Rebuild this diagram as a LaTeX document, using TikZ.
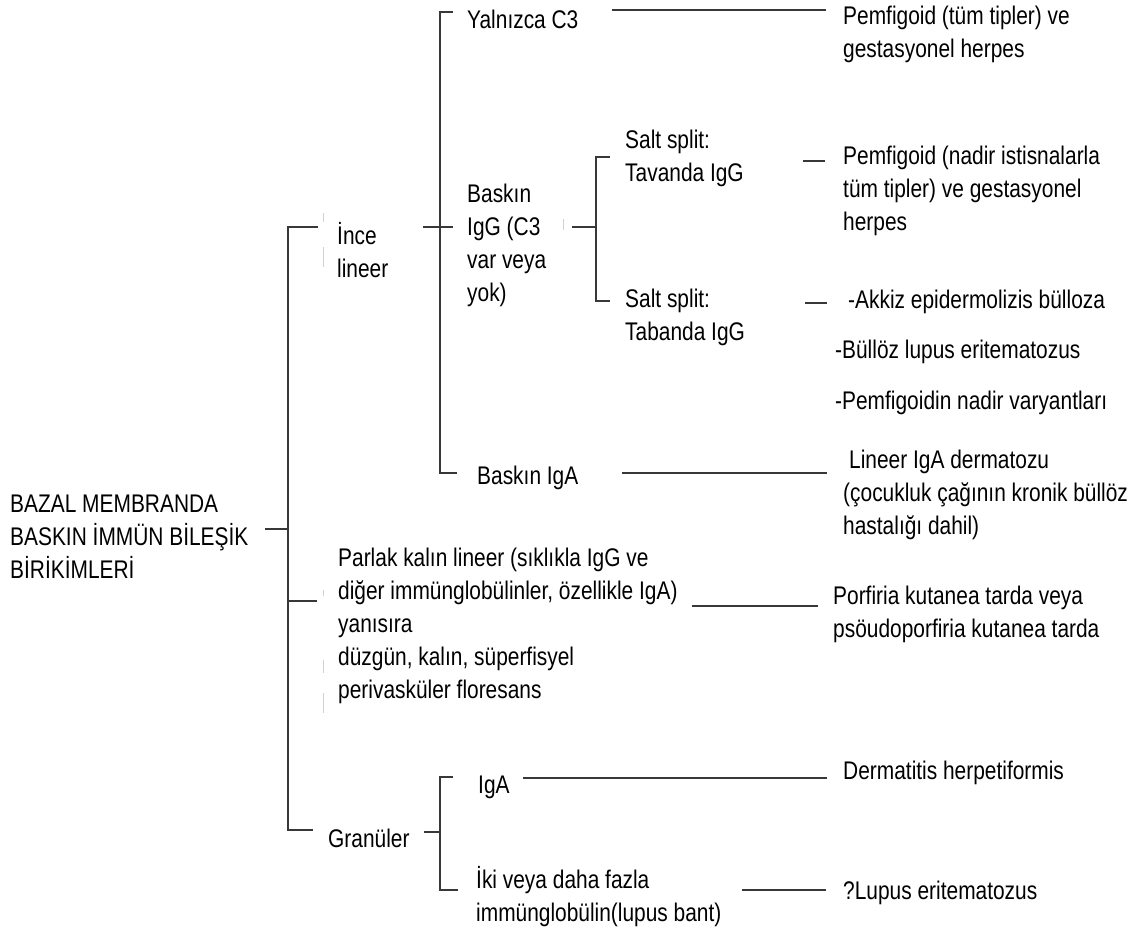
\documentclass[tikz,border=0pt]{standalone}
\usepackage{fontspec}
\setmainfont{Liberation Sans}[FakeStretch=0.82]
\begin{document}
\begin{tikzpicture}[x=1pt,y=-1pt,
  lbl/.style={anchor=west, inner sep=0pt, align=left, font=\fontsize{25.5}{33}\selectfont},
  ln/.style={draw=black!78, line width=1.4pt},
  faint/.style={draw=black!18, line width=0.8pt}]
\useasboundingbox (0,0) rectangle (1137,934);
% ---------- texts ----------
\node[lbl] (root) at (10,537) {BAZAL MEMBRANDA\\BASKIN İMMÜN BİLEŞİK\\BİRİKİMLERİ};
\node[lbl] (ince) at (337,250) {İnce\\lineer};
\node[lbl] (parlak) at (338,626) {Parlak kalın lineer (sıklıkla IgG ve\\diğer immünglobülinler, özellikle IgA)\\yanısıra\\düzgün, kalın, süperfisyel\\perivasküler floresans};
\node[lbl] (gran) at (328,838) {Granüler};
\node[lbl] (yal) at (467,19) {Yalnızca C3};
\node[lbl] (bigg) at (467,245) {Baskın\\IgG (C3\\var veya\\yok)};
\node[lbl] (biga) at (477,478) {Baskın IgA};
\node[lbl] (iga) at (478,787) {IgA};
\node[lbl] (iki) at (476,897) {İki veya daha fazla\\immünglobülin(lupus bant)};
\node[lbl] (s1) at (625,158) {Salt split:\\Tavanda IgG};
\node[lbl] (s2) at (625,317) {Salt split:\\Tabanda IgG};
\node[lbl] (rp1) at (843,34) {Pemfigoid (tüm tipler) ve\\gestasyonel herpes};
\node[lbl] (rp2) at (843,191) {Pemfigoid (nadir istisnalarla\\tüm tipler) ve gestasyonel\\herpes};
\node[lbl] (rak) at (848,302) {-Akkiz epidermolizis bülloza};
\node[lbl] (rbu) at (835,352) {-Büllöz lupus eritematozus};
\node[lbl] (rpv) at (835,403) {-Pemfigoidin nadir varyantları};
\node[lbl] (rli) at (843,495) {\hspace*{6pt}Lineer IgA dermatozu\\(çocukluk çağının kronik büllöz\\hastalığı dahil)};
\node[lbl] (rpo) at (833,614) {Porfiria kutanea tarda veya\\psöudoporfiria kutanea tarda};
\node[lbl] (rde) at (843,773) {Dermatitis herpetiformis};
\node[lbl] (rlu) at (843,893) {?Lupus eritematozus};
% ---------- bracket points ----------
\coordinate (rootE) at (265,529);
\coordinate (m1) at (288,529);
\coordinate (mTop) at (288,227);
\coordinate (mTopE) at (318,227);
\coordinate (mMid) at (288,601);
\coordinate (mMidE) at (317,601);
\coordinate (mBot) at (288,830);
\coordinate (mBotE) at (313,830);
\coordinate (iW) at (423,227);
\coordinate (iE) at (453,227);
\coordinate (iTop) at (440,12);
\coordinate (iTopE) at (453,12);
\coordinate (iBot) at (440,473);
\coordinate (iBotE) at (457,473);
\coordinate (yW) at (612,10);
\coordinate (yE) at (826,10);
\coordinate (gW) at (572,227);
\coordinate (gJ) at (596,227);
\coordinate (gTop) at (596,157);
\coordinate (gTopE) at (610,157);
\coordinate (gBot) at (596,301);
\coordinate (gBotE) at (610,301);
\coordinate (p2W) at (803,161);
\coordinate (p2E) at (825,161);
\coordinate (akW) at (805,303);
\coordinate (akE) at (827,303);
\coordinate (baW) at (622,473);
\coordinate (baE) at (827,473);
\coordinate (poW) at (692,606);
\coordinate (poE) at (818,606);
\coordinate (grW) at (424,832);
\coordinate (grJ) at (440,832);
\coordinate (grTop) at (440,777);
\coordinate (grTopE) at (453,777);
\coordinate (grBot) at (440,890);
\coordinate (grBotE) at (458,890);
\coordinate (igW) at (523,778);
\coordinate (igE) at (827,778);
\coordinate (luW) at (742,890);
\coordinate (luE) at (826,890);
% ---------- connectors ----------
\draw[ln] (rootE) -- (m1);
\draw[ln] (mTopE) -- (mTop) -- (mBot) -- (mBotE);
\draw[ln] (mMid) -- (mMidE);
\draw[ln] (iW) -- (iE);
\draw[ln] (iTopE) -- (iTop) -- (iBot) -- (iBotE);
\draw[ln] (yW) -- (yE);
\draw[ln] (gW) -- (gJ);
\draw[ln] (gTopE) -- (gTop) -- (gBot) -- (gBotE);
\draw[ln] (p2W) -- (p2E);
\draw[ln] (akW) -- (akE);
\draw[ln] (baW) -- (baE);
\draw[ln] (poW) -- (poE);
\draw[ln] (grW) -- (grJ);
\draw[ln] (grTopE) -- (grTop) -- (grBot) -- (grBotE);
\draw[ln] (igW) -- (igE);
\draw[ln] (luW) -- (luE);
% ---------- faint marks ----------
\draw[faint] (323,213) -- (323,222);
\draw[faint] (323,247) -- (323,267);
\draw[faint] (323,590) -- (323,596);
\draw[faint] (323,660) -- (323,673);
\draw[faint] (323,693) -- (323,713);
\draw[faint] (563,219) -- (563,230);
\end{tikzpicture}
\end{document}
